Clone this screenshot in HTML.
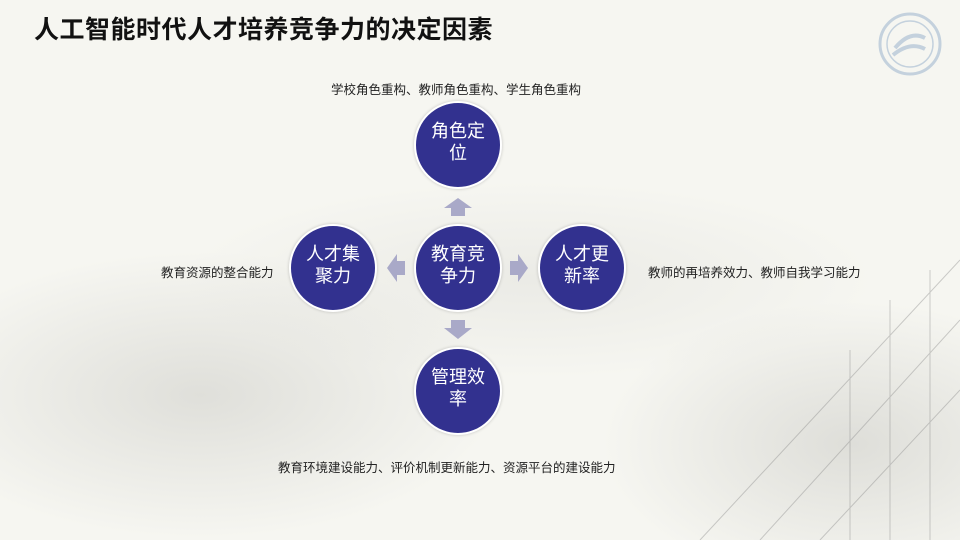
<!DOCTYPE html>
<html><head><meta charset="utf-8"><style>
html,body{margin:0;width:960px;height:540px;overflow:hidden}
#p{position:relative;width:960px;height:540px;overflow:hidden;background:#f6f6f1;font-family:"Liberation Sans","Noto Sans CJK SC",sans-serif}
.bg1{position:absolute;left:-100px;top:250px;width:600px;height:290px;border-radius:50%;background:radial-gradient(ellipse at center,rgba(170,170,165,.3),rgba(200,200,195,0) 70%)}
.bg2{position:absolute;left:600px;top:300px;width:360px;height:240px;background:radial-gradient(ellipse at 70% 60%,rgba(150,150,145,.25),rgba(200,200,195,0) 70%)}
.bg3{position:absolute;left:180px;top:180px;width:700px;height:200px;background:radial-gradient(ellipse at center,rgba(190,190,185,.2),rgba(200,200,195,0) 70%)}
.t{position:absolute;left:34px;top:10px;font-size:25px;font-weight:bold;color:#111;letter-spacing:0.5px}
.c{position:absolute;width:84px;height:84px;border-radius:50%;background:#32318f;border:2px solid #fff;color:#fff;font-size:18px;line-height:22px;display:flex;align-items:center;justify-content:center;text-align:center;box-shadow:0 0 3px rgba(0,0,0,.2)}
.c span{width:66px;margin-top:-6px}
.l{position:absolute;font-size:12.5px;color:#222;white-space:nowrap}
</style></head><body><div id="p">
<div class="bg1"></div><div class="bg2"></div><div class="bg3"></div>
<svg style="position:absolute;left:0;top:0" width="960" height="540">
<g stroke="#888" stroke-width="1" fill="none" opacity=".4">
<path d="M700 540 L960 260 M760 540 L960 320 M820 540 L960 390"/>
<path d="M890 300 V540 M930 270 V540 M850 350 V540"/>
</g>
<g fill="#a9a9c8">
<polygon points="451,216 465,216 465,208 472,208 458,198 444,208 451,208"/>
<polygon points="451,320 465,320 465,328 472,328 458,339 444,328 451,328"/>
<polygon points="405,261 405,275 397,275 397,282 387,268 397,254 397,261"/>
<polygon points="510,261 510,275 518,275 518,282 528,268 518,254 518,261"/>
</g>
<g opacity=".4" stroke="#7a9cc0" fill="none">
<circle cx="910" cy="44" r="30" stroke-width="3"/>
<circle cx="910" cy="44" r="23" stroke-width="1.5"/>
<path d="M895 48 q15 -18 30 -10 M893 55 q17 -14 32 -6" stroke-width="4"/>
</g>
</svg>
<div class="t">人工智能时代人才培养竞争力的决定因素</div>
<div class="c" style="left:414px;top:101px"><span>角色定位</span></div>
<div class="c" style="left:414px;top:224px"><span>教育竞争力</span></div>
<div class="c" style="left:289px;top:224px"><span>人才集聚力</span></div>
<div class="c" style="left:538px;top:224px"><span>人才更新率</span></div>
<div class="c" style="left:414px;top:347px"><span>管理效率</span></div>
<div class="l" style="left:331px;top:79px">学校角色重构、教师角色重构、学生角色重构</div>
<div class="l" style="left:161px;top:262px">教育资源的整合能力</div>
<div class="l" style="left:648px;top:262px">教师的再培养效力、教师自我学习能力</div>
<div class="l" style="left:278px;top:457px">教育环境建设能力、评价机制更新能力、资源平台的建设能力</div>
</div></body></html>
